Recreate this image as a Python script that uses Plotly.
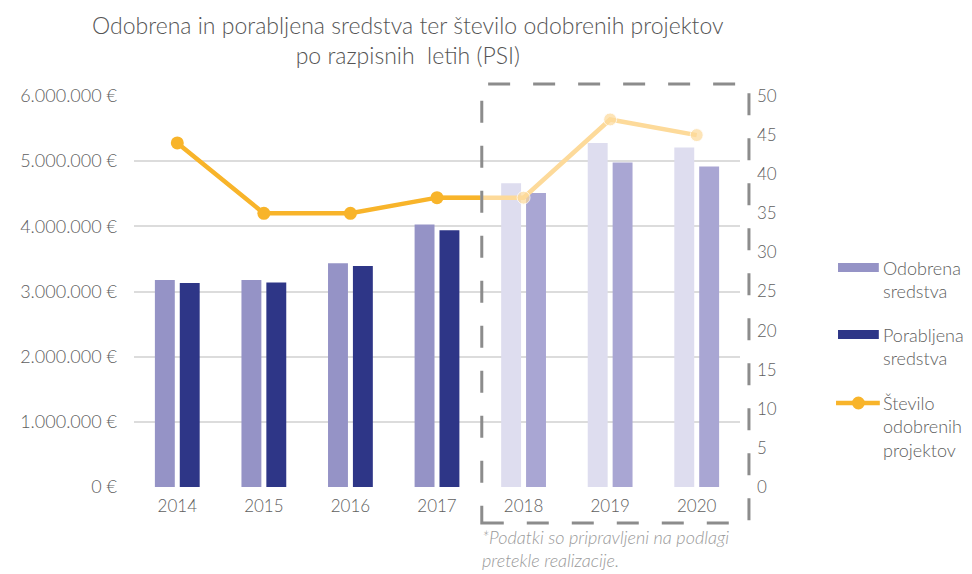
import plotly.graph_objects as go

years = ["2014", "2015", "2016", "2017", "2018", "2019", "2020"]
odobrena = [3175000, 3175000, 3435000, 4030000, 4660000, 5280000, 5210000]
porabljena = [3130000, 3140000, 3390000, 3940000, 4510000, 4980000, 4920000]
projekti = [44, 35, 35, 37, 37, 47, 45]

left_tickvals = [0, 1000000, 2000000, 3000000, 4000000, 5000000, 6000000]
left_ticktext = ["0 €", "1.000.000 €", "2.000.000 €", "3.000.000 €",
                 "4.000.000 €", "5.000.000 €", "6.000.000 €"]
right_tickvals = [0, 5, 10, 15, 20, 25, 30, 35, 40, 45, 50]

title_lines = ["Odobrena in porabljena sredstva ter število odobrenih projektov",
               "po razpisnih  letih (PSI)"]
footnote_lines = ["*Podatki so pripravljeni na podlagi", "pretekle realizacije."]

C_OD = "#9593C6"
C_OD_L = "#DEDDEF"
C_PO = "#2E3687"
C_PO_L = "#A9A6D3"
C_LINE = "#F8B42A"
C_LINE_L = "#FDDA9A"
GRAY = "#606060"
FONT = "Lato"
WEIGHT = 300

n_real = 4  # 2014-2017 realised, 2018-2020 estimated
od_colors = [C_OD] * n_real + [C_OD_L] * (len(years) - n_real)
po_colors = [C_PO] * n_real + [C_PO_L] * (len(years) - n_real)

fig = go.Figure()
fig.add_trace(go.Bar(x=years, y=odobrena, marker=dict(color=od_colors, line_width=0),
                     name="Odobrena sredstva", showlegend=False))
fig.add_trace(go.Bar(x=years, y=porabljena, marker=dict(color=po_colors, line_width=0),
                     name="Porabljena sredstva", showlegend=False))

# light (estimated) part of line, from 2017 onward
fig.add_trace(go.Scatter(x=years[n_real - 1:], y=projekti[n_real - 1:], xaxis="x", yaxis="y2",
                         mode="lines+markers",
                         line=dict(color=C_LINE_L, width=4.5),
                         marker=dict(color=C_LINE_L, size=[0, 13, 13, 13]),
                         showlegend=False))
# realised part, clipped at the boundary by a sub-plot covering the first 3.5 categories
fig.add_trace(go.Scatter(x=years[:n_real + 1], y=projekti[:n_real + 1], xaxis="x2", yaxis="y3",
                         mode="lines+markers",
                         line=dict(color=C_LINE, width=4.5),
                         marker=dict(color=C_LINE, size=13),
                         showlegend=False))

OFF = 8  # page body margin
W, H = 972 - OFF, 574 - OFF
L, T = 131.5 - OFF, 96 - OFF
R = W - (740.5 - OFF)
B = H - (487 - OFF)
pw = W - L - R
ph = H - T - B


def px_x(x):
    return (x - OFF - L) / pw


def px_y(y):
    return (H - B - (y - OFF)) / ph


xtickfont = dict(size=17, color=GRAY, family=FONT, weight=WEIGHT)
ytickfont = dict(size=18, color=GRAY, family=FONT, weight=WEIGHT)
y2tickfont = dict(size=17, color=GRAY, family=FONT, weight=WEIGHT)

fig.update_layout(
    width=W, height=H,
    margin=dict(l=L, r=R, t=T, b=B),
    paper_bgcolor="white", plot_bgcolor="rgba(0,0,0,0)",
    barmode="group", bargap=0.425, bargroupgap=0.2,
    font=dict(family=FONT, color=GRAY, size=16, weight=WEIGHT),
    showlegend=False,
    xaxis=dict(domain=[0, 1], type="category", categoryarray=years, range=[-0.5, 6.5],
               showgrid=False, showline=False, ticks="", tickfont=xtickfont,
               ticklabelstandoff=7),
    xaxis2=dict(domain=[0, n_real / len(years)], type="category",
                categoryarray=years[:n_real + 1], range=[-0.5, n_real - 0.5],
                anchor="y3", visible=False),
    yaxis=dict(range=[0, 6000000], tickvals=left_tickvals, ticktext=left_ticktext,
               showgrid=True, gridcolor="#DCDCDC", gridwidth=1.5, zeroline=False,
               showline=False, ticks="", tickfont=ytickfont,
               ticklabelstandoff=16),
    yaxis2=dict(range=[0, 50], tickvals=right_tickvals, overlaying="y", side="right",
                showgrid=False, zeroline=False, showline=False, ticks="",
                tickfont=y2tickfont, ticklabelstandoff=16, anchor="x"),
    yaxis3=dict(domain=[0, 1], range=[0, 50], anchor="x2", visible=False),
)

# title
fig.add_annotation(text="<br>".join(title_lines), xref="paper", yref="paper",
                   x=px_x(406.5), y=px_y(9), xanchor="center", yanchor="top",
                   showarrow=False, align="center",
                   font=dict(size=23, color="#555555", family=FONT, weight=WEIGHT))

# dashed box marking estimated years
fig.add_shape(type="rect", xref="paper", yref="paper",
              x0=px_x(481), x1=px_x(749.5), y0=px_y(523), y1=px_y(84),
              line=dict(color="#8C8C8C", width=3, dash="22px,23px"), layer="above")

# footnote
fig.add_annotation(text="<i>" + "<br>".join(footnote_lines) + "</i>", xref="paper", yref="paper",
                   x=px_x(479), y=px_y(524), xanchor="left", yanchor="top", showarrow=False,
                   align="left", font=dict(size=18, color="#9A9A9A", family=FONT, weight=WEIGHT))

# custom legend
leg = [
    ("rect", C_OD, ["Odobrena", "sredstva"], 267.5),
    ("rect", C_PO, ["Porabljena", "sredstva"], 334.5),
    ("line", C_LINE, ["Število", "odobrenih", "projektov"], 403),
]
for kind, col, lines, yc in leg:
    if kind == "rect":
        fig.add_shape(type="rect", xref="paper", yref="paper",
                      x0=px_x(839), x1=px_x(880), y0=px_y(yc + 4.5), y1=px_y(yc - 4.5),
                      fillcolor=col, line_width=0)
    else:
        fig.add_shape(type="line", xref="paper", yref="paper",
                      x0=px_x(837), x1=px_x(881), y0=px_y(yc), y1=px_y(yc),
                      line=dict(color=col, width=4.5))
        fig.add_shape(type="circle", xref="paper", yref="paper",
                      x0=px_x(853), x1=px_x(866), y0=px_y(yc + 6.5), y1=px_y(yc - 6.5),
                      fillcolor=col, line_width=0)
    fig.add_annotation(text="<br>".join(lines), xref="paper", yref="paper",
                       x=px_x(882), y=px_y(yc - 13), xanchor="left", yanchor="top",
                       showarrow=False, align="left",
                       font=dict(size=18, color=GRAY, family=FONT, weight=WEIGHT))

fig.write_html("out.html")
